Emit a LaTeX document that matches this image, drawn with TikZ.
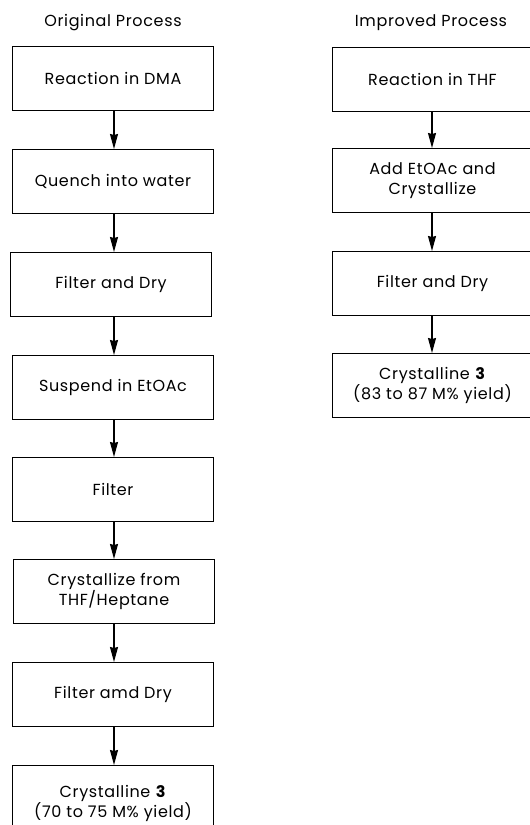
\documentclass[tikz,border=0pt]{standalone}
\usepackage{fontspec}
\setmainfont{Poppins}[LetterSpace=4]
\usetikzlibrary{arrows.meta}
\begin{document}
\begin{tikzpicture}[x=1pt,y=-1pt,
  stepbox/.style={draw,line width=1.4pt,minimum width=201pt,minimum height=64pt,
    inner sep=0pt,align=center,font=\fontsize{16}{20}\selectfont,anchor=north},
  title/.style={font=\fontsize{16}{19}\selectfont},
  flow/.style={line width=1.2pt,-{Stealth[length=15pt,width=8pt,inset=1pt]}}]
\clip (0,0) rectangle (530,825);
\node[title] (t1) at (113,23) {Original Process};
\node[title] (t2) at (431,23) {Improved Process};
% left column
\node[stepbox] (a1) at (113,46) {Reaction in DMA};
\node[stepbox] (a2) at (113,149) {Quench into water};
\node[stepbox] (a3) at (111,252) {Filter and Dry};
\node[stepbox] (a4) at (113,355) {Suspend in EtOAc};
\node[stepbox] (a5) at (113,457) {Filter};
\node[stepbox] (a6) at (114,559) {Crystallize from\\THF/Heptane};
\node[stepbox] (a7) at (113,662) {Filter amd Dry};
\node[stepbox,minimum height=76pt] (a8) at (113,765) {Crystalline \textbf{3}\\(70 to 75 M\% yield)};
% right column
\node[stepbox,minimum width=200pt] (b1) at (432.5,47) {Reaction in THF};
\node[stepbox,minimum width=200pt] (b2) at (432.5,148) {Add EtOAc and\\Crystallize};
\node[stepbox,minimum width=200pt] (b3) at (432.5,251) {Filter and Dry};
\node[stepbox,minimum width=200pt] (b4) at (432.5,353) {Crystalline \textbf{3}\\(83 to 87 M\% yield)};
% arrows
\foreach \u/\v in {a1/a2,a2/a3,a3/a4,a4/a5,a5/a6,a6/a7,a7/a8}
  \draw[flow] (\u.south -| 114,0) -- (\v.north -| 114,0);
\foreach \u/\v in {b1/b2,b2/b3,b3/b4}
  \draw[flow] (\u.south -| 432,0) -- (\v.north -| 432,0);
\end{tikzpicture}
\end{document}
